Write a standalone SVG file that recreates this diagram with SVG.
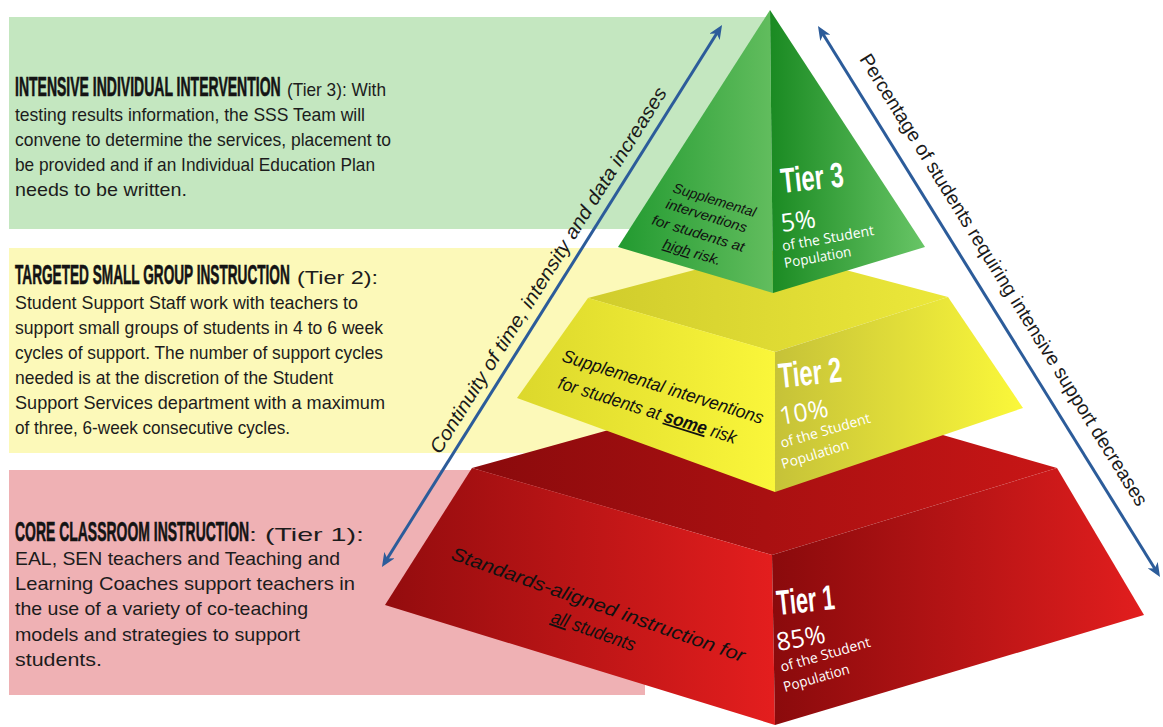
<svg xmlns="http://www.w3.org/2000/svg" width="1163" height="727" viewBox="0 0 1163 727">
<style>
.bd{font-family:"Liberation Sans","Noto Sans",sans-serif;font-size:19px;fill:#1c1c1c}
.hd{font-family:"Liberation Sans","Noto Sans",sans-serif;font-size:27px;font-weight:bold;fill:#141414;stroke:#141414;stroke-width:0.6}
.tier{font-family:"Liberation Sans","Noto Sans",sans-serif;font-size:35px;font-weight:bold;fill:#ffffff}
.pct{font-family:"Open Sans","Liberation Sans",sans-serif;font-size:25px;fill:#ffffff}
.sm{font-family:"Open Sans","Liberation Sans",sans-serif;font-size:14px;fill:#ffffff}
.face{font-family:"Liberation Sans","Noto Sans",sans-serif;font-style:italic;fill:#111111}
.axis{font-family:"Liberation Sans","Noto Sans",sans-serif;font-size:19.5px;fill:#1a1a1a}
.arr{stroke:#2c5c9a;stroke-width:3;fill:none;marker-start:url(#ah);marker-end:url(#ah)}
</style>
<defs>
<marker id="ah" viewBox="0 0 14 12" refX="6" refY="6" markerWidth="14" markerHeight="12" markerUnits="userSpaceOnUse" orient="auto-start-reverse">
<path d="M0,0 L14,6 L0,12 L4,6 Z" fill="#2c5c9a"/>
</marker>
<linearGradient id="g3l" x1="0" y1="0" x2="1" y2="0"><stop offset="0" stop-color="#229a30"/><stop offset="1" stop-color="#62bd5e"/></linearGradient>
<linearGradient id="g3r" x1="0" y1="0" x2="1" y2="0"><stop offset="0" stop-color="#1a8a22"/><stop offset="1" stop-color="#68c566"/></linearGradient>
<linearGradient id="g2l" x1="0" y1="0" x2="1" y2="0"><stop offset="0" stop-color="#dcd82c"/><stop offset="1" stop-color="#faf63a"/></linearGradient>
<linearGradient id="g2t" x1="0" y1="0" x2="1" y2="0"><stop offset="0" stop-color="#d0cc2c"/><stop offset="1" stop-color="#ece83a"/></linearGradient>
<linearGradient id="g2r" x1="0" y1="0" x2="1" y2="0"><stop offset="0" stop-color="#c6c238"/><stop offset="1" stop-color="#fbf83a"/></linearGradient>
<linearGradient id="g1l" x1="0" y1="0" x2="1" y2="0"><stop offset="0" stop-color="#930c0e"/><stop offset="1" stop-color="#e41e1e"/></linearGradient>
<linearGradient id="g1t" x1="0" y1="0" x2="1" y2="0"><stop offset="0" stop-color="#8a0a0c"/><stop offset="1" stop-color="#c81616"/></linearGradient>
<linearGradient id="g1r" x1="0" y1="0" x2="1" y2="0"><stop offset="0" stop-color="#8a0a0c"/><stop offset="1" stop-color="#e21e1e"/></linearGradient>
</defs>
<rect width="1163" height="727" fill="#ffffff"/>

<g id="band-tier3">
<rect x="9" y="17" width="761" height="212" fill="#c4e7c0"/>
<text class="hd" transform="translate(15,96) scale(0.519,1)">INTENSIVE INDIVIDUAL INTERVENTION</text>
<text class="bd" x="287" y="96" textLength="99" lengthAdjust="spacingAndGlyphs">(Tier 3): With</text>
<text class="bd" x="15" y="121" textLength="350" lengthAdjust="spacingAndGlyphs">testing results information, the SSS Team will</text>
<text class="bd" x="15" y="146" textLength="376" lengthAdjust="spacingAndGlyphs">convene to determine the services, placement to</text>
<text class="bd" x="15" y="171" textLength="360" lengthAdjust="spacingAndGlyphs">be provided and if an Individual Education Plan</text>
<text class="bd" x="15" y="196" textLength="172" lengthAdjust="spacingAndGlyphs">needs to be written.</text>
</g>

<g id="band-tier2">
<rect x="9" y="248" width="761" height="205" fill="#fcf9b9"/>
<text class="hd" transform="translate(15,284) scale(0.505,1)">TARGETED SMALL GROUP INSTRUCTION</text>
<text class="bd" x="297" y="284" textLength="81" lengthAdjust="spacingAndGlyphs">(Tier 2):</text>
<text class="bd" x="15" y="309" textLength="343" lengthAdjust="spacingAndGlyphs">Student Support Staff work with teachers to</text>
<text class="bd" x="15" y="334" textLength="368" lengthAdjust="spacingAndGlyphs">support small groups of students in 4 to 6 week</text>
<text class="bd" x="15" y="359" textLength="368" lengthAdjust="spacingAndGlyphs">cycles of support. The number of support cycles</text>
<text class="bd" x="15" y="384" textLength="318" lengthAdjust="spacingAndGlyphs">needed is at the discretion of the Student</text>
<text class="bd" x="15" y="409" textLength="370" lengthAdjust="spacingAndGlyphs">Support Services department with a maximum</text>
<text class="bd" x="15" y="434" textLength="275" lengthAdjust="spacingAndGlyphs">of three, 6-week consecutive cycles.</text>
</g>

<g id="band-tier1">
<rect x="9" y="470" width="636" height="225" fill="#efb1b4"/>
<text class="hd" transform="translate(15,541) scale(0.517,1)">CORE CLASSROOM INSTRUCTION</text>
<text class="bd" x="249" y="541" textLength="115" lengthAdjust="spacingAndGlyphs">: (Tier 1):</text>
<text class="bd" x="15" y="565" textLength="325" lengthAdjust="spacingAndGlyphs">EAL, SEN teachers and Teaching and</text>
<text class="bd" x="15" y="590" textLength="340" lengthAdjust="spacingAndGlyphs">Learning Coaches support teachers in</text>
<text class="bd" x="15" y="615" textLength="293" lengthAdjust="spacingAndGlyphs">the use of a variety of co-teaching</text>
<text class="bd" x="15" y="641" textLength="285" lengthAdjust="spacingAndGlyphs">models and strategies to support</text>
<text class="bd" x="15" y="666" textLength="87" lengthAdjust="spacingAndGlyphs">students.</text>
</g>

<g id="pyramid-tier1">
<polygon points="472,468 770,385 1057,468 772,555" fill="url(#g1t)"/>
<polygon points="472,468 772,555 775,725 385,605" fill="url(#g1l)"/>
<polygon points="772,555 1057,468 1144,615 775,725" fill="url(#g1r)"/>
<text class="face" font-size="19" transform="translate(450,559) rotate(19.5)" textLength="310" lengthAdjust="spacingAndGlyphs">Standards-aligned instruction for</text>
<text class="face" font-size="19" transform="translate(550,622) rotate(19.5)" textLength="88" lengthAdjust="spacingAndGlyphs"><tspan text-decoration="underline">all</tspan> students</text>
<text class="tier" transform="translate(778,615) rotate(-6)" textLength="58" lengthAdjust="spacingAndGlyphs">Tier 1</text>
<text class="pct" transform="translate(778,651) rotate(-10)">85%</text>
<text class="sm" transform="translate(782,672) rotate(-16)" textLength="93" lengthAdjust="spacingAndGlyphs">of the Student</text>
<text class="sm" transform="translate(785,692) rotate(-16)" textLength="68" lengthAdjust="spacingAndGlyphs">Population</text>
</g>

<g id="pyramid-tier2">
<polygon points="588,298 770,250 948,297 775,352" fill="url(#g2t)"/>
<polygon points="588,298 775,352 775,492 517,398" fill="url(#g2l)"/>
<polygon points="775,352 948,297 1023,408 775,492" fill="url(#g2r)"/>
<text class="face" font-size="18" transform="translate(561,361) rotate(17.5)" textLength="210" lengthAdjust="spacingAndGlyphs">Supplemental interventions</text>
<text class="face" font-size="18" transform="translate(557,388) rotate(17.5)" textLength="186" lengthAdjust="spacingAndGlyphs">for students at <tspan font-weight="bold" text-decoration="underline">some</tspan> risk</text>
<text class="tier" transform="translate(780,388) rotate(-6)" textLength="63" lengthAdjust="spacingAndGlyphs">Tier 2</text>
<text class="pct" transform="translate(781,425) rotate(-10)">10%</text>
<text class="sm" transform="translate(782,448) rotate(-16)" textLength="93" lengthAdjust="spacingAndGlyphs">of the Student</text>
<text class="sm" transform="translate(783,469) rotate(-17)" textLength="70" lengthAdjust="spacingAndGlyphs">Population</text>
</g>

<g id="pyramid-tier3">
<polygon points="770,10 618,247 773,293" fill="url(#g3l)"/>
<polygon points="770,10 773,293 925,247" fill="url(#g3r)"/>
<text class="face" font-size="14" transform="translate(672,192) rotate(17)" textLength="86" lengthAdjust="spacingAndGlyphs">Supplemental</text>
<text class="face" font-size="14" transform="translate(665,208) rotate(17)" textLength="84" lengthAdjust="spacingAndGlyphs">interventions</text>
<text class="face" font-size="14" transform="translate(651,224) rotate(17)" textLength="96" lengthAdjust="spacingAndGlyphs">for students at</text>
<text class="face" font-size="14" transform="translate(662,248) rotate(17)" textLength="60" lengthAdjust="spacingAndGlyphs"><tspan text-decoration="underline">high</tspan> risk.</text>
<text class="tier" transform="translate(782,193) rotate(-6)" textLength="63" lengthAdjust="spacingAndGlyphs">Tier 3</text>
<text class="pct" transform="translate(782,232) rotate(-8)">5%</text>
<text class="sm" transform="translate(783,251) rotate(-10)" textLength="93" lengthAdjust="spacingAndGlyphs">of the Student</text>
<text class="sm" transform="translate(785,268) rotate(-10)" textLength="68" lengthAdjust="spacingAndGlyphs">Population</text>
</g>

<g id="connectors">
<line class="arr" x1="386.2" y1="560.2" x2="717.8" y2="31.8"/>
<line class="arr" x1="822.2" y1="32.8" x2="1155.8" y2="570.2"/>
<text class="axis" font-style="italic" transform="translate(440,455) rotate(-57.9)" textLength="428" lengthAdjust="spacingAndGlyphs">Continuity of time, intensity and data increases</text>
<text class="axis" transform="translate(859,59) rotate(58.17)" textLength="528" lengthAdjust="spacingAndGlyphs">Percentage of students requiring intensive support decreases</text>
</g>
</svg>
